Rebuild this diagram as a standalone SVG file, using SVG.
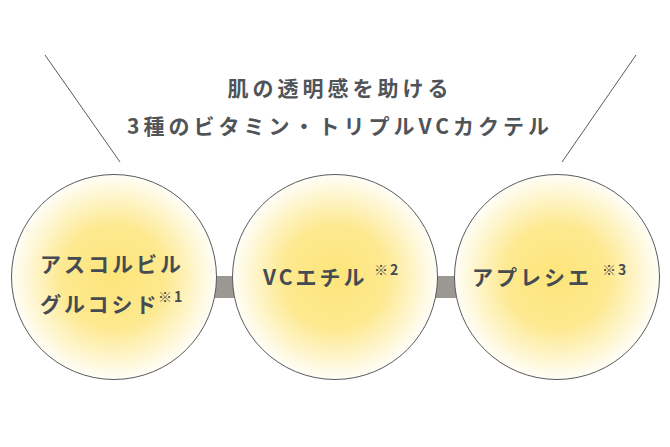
<svg xmlns="http://www.w3.org/2000/svg" width="670" height="447" viewBox="0 0 670 447">
<defs>
<radialGradient id="g" cx="0.5" cy="0.5" r="0.5">
<stop offset="0" stop-color="#fde57a"/>
<stop offset="0.5" stop-color="#fde98f"/>
<stop offset="1" stop-color="#fffef8"/>
</radialGradient>
<style>
.c{fill:url(#g);stroke:#5a5a5a;stroke-width:1}
.t{font-family:"Noto Sans CJK JP",sans-serif;font-weight:bold;fill:#454b52;font-size:21px;letter-spacing:3px}
.s{font-family:"Noto Sans CJK JP",sans-serif;font-weight:bold;fill:#454b52;font-size:14px;letter-spacing:2px}
.h{font-family:"Noto Sans CJK JP",sans-serif;font-weight:bold;fill:#505458;font-size:21px;letter-spacing:4px;text-anchor:middle}
</style>
</defs>
<rect width="670" height="447" fill="#fff"/>
<g id="connectors" fill="#9b9893" stroke="#5a5a5a" stroke-width="1">
<line x1="45" y1="55" x2="120" y2="162"/>
<line x1="636" y1="55" x2="562" y2="162"/>
<rect x="214" y="276" width="20" height="22" stroke="none"/>
<rect x="434" y="276" width="22" height="22" stroke="none"/>
</g>
<g id="title">
<text class="h" x="340" y="96">肌の透明感を助ける</text>
<text class="h" x="340" y="134">3種のビタミン・トリプルVCカクテル</text>
</g>
<g id="n1"><circle class="c" cx="114" cy="277" r="102.5"/>
<text class="t" x="40" y="272">アスコルビル</text>
<text class="t" x="40" y="312">グルコシド</text><text class="s" x="158" y="302">※1</text></g>
<g id="n2"><circle class="c" cx="335" cy="277" r="102.5"/>
<text class="t" x="263" y="285">VCエチル</text><text class="s" x="374" y="275">※2</text></g>
<g id="n3"><circle class="c" cx="557" cy="277" r="102.5"/>
<text class="t" x="472" y="285">アプレシエ</text><text class="s" x="602" y="275">※3</text></g>
</svg>
